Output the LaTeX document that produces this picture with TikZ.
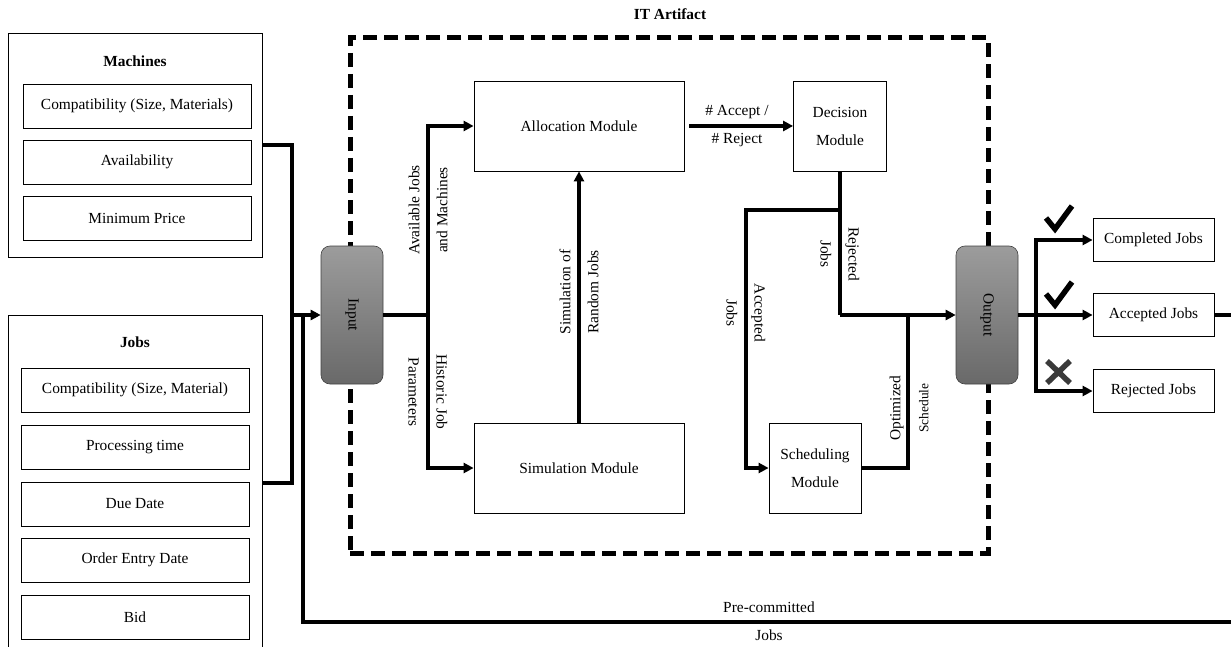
\documentclass[tikz,border=0pt]{standalone}
\usepackage{fontspec}
\setmainfont{Liberation Serif}
\usetikzlibrary{arrows.meta}
\definecolor{porttop}{HTML}{9C9C9C}
\definecolor{portbot}{HTML}{696969}
\definecolor{crossgray}{HTML}{3A3A3A}
\def\lw{3.2pt}
\def\boxw{228pt}
\def\boxh{44pt}

\begin{document}
\begin{tikzpicture}[x=1pt,y=-1pt,
  font=\fontsize{15.4}{28}\selectfont,
  item/.style={draw,line width=0.8pt,minimum width=\boxw,minimum height=\boxh,inner sep=0pt},
  group/.style={draw,line width=0.8pt,inner sep=0pt},
  module/.style={draw,line width=0.8pt,align=center,inner sep=0pt},
  port/.style={draw=black!75,line width=0.6pt,rounded corners=9pt,top color=porttop,bottom color=portbot,minimum width=62pt,minimum height=138pt,inner sep=0pt},
  wire/.style={line width=\lw},
  flow/.style={line width=\lw,-{Triangle[length=10pt,width=10pt]}},
  lbl/.style={align=center,inner sep=0pt},
  tick/.style={line width=5.5pt}]

\useasboundingbox (0,0) rectangle (1231,647);

%Machines group (left, top)
\node[group,minimum width=254pt,minimum height=224pt] (machines) at (135,145) {};
\node (machtitle) at (135,61) {\textbf{Machines}};
\foreach \t/\y [count=\i] in {{Compatibility (Size, Materials)}/106,Availability/162,{Minimum Price}/218}{
    \node[item] (mach\i) at (137,\y) {\t};
}

%Jobs group (left, bottom) - runs off the page
\node[group,minimum width=254pt,minimum height=336pt] (jobs) at (135,483) {};
\node (jobtitle) at (135,342) {\textbf{Jobs}};
\foreach \t/\y [count=\i] in {{Compatibility (Size, Material)}/390,{Processing time}/447,{Due Date}/504,{Order Entry Date}/560,Bid/617}{
    \node[item] (job\i) at (135,\y) {\t};
}

%The IT artifact frame (dashed)
\node[draw,line width=5pt,dash pattern=on 14pt off 7pt,minimum width=638pt,minimum height=515pt,inner sep=0pt] (artifact) at (669,295.5) {};
\node (arttitle) at (670,14) {\textbf{IT Artifact}};

%Ports
\node[port] (input) at (352,315) {\rotatebox{-90}{Input}};
\node[port] (output) at (987,315) {\rotatebox{-90}{Output}};

%Modules
\node[module,minimum width=210pt,minimum height=90pt] (alloc) at (579,126) {Allocation Module};
\node[module,minimum width=210pt,minimum height=90pt] (sim) at (579,468) {Simulation Module};
\node[module,minimum width=93pt,minimum height=90pt] (decision) at (840,126) {Decision\\Module};
\node[module,minimum width=92pt,minimum height=90pt] (sched) at (815,468) {Scheduling\\Module};

%Result boxes (right)
\foreach \t/\n/\y in {{Completed Jobs}/completed/240,{Accepted Jobs}/accepted/315,{Rejected Jobs}/rejected/391}{
    \node[item,minimum width=121pt,minimum height=43pt] (\n) at (1153.5,\y) {\t};
}

%bends and joins
\coordinate (join) at (292,315);
\coordinate (pcstart) at (303,315);
\coordinate (pcend) at (1240,622);
\coordinate (split) at (428,315);
\coordinate (fork) at (840,210);
\coordinate (turn) at (746,210);
\coordinate (rejturn) at (840,315);
\coordinate (merge) at (908,315);
\coordinate (outsplit) at (1036,315);
\coordinate (loopend) at (1240,315);

\draw[wire] (machines.east) -| (join);
\draw[wire] (jobs.east) -| (join);
\draw[flow] (join) -- (input.west);
\draw[wire] (pcstart) |- (pcend);
\draw[wire] (input.east) -- (split);
\draw[flow] (split) |- (alloc.west);
\draw[flow] (split) |- (sim.west);
\draw[flow] (sim.north) -- (alloc.south);
\draw[flow,shorten <=5pt] (alloc.east) -- (decision.west);
\draw[wire] (decision.south) -- (rejturn);
\draw[flow] (rejturn) -- (output.west);
\draw[flow] (fork) -- (turn) |- (sched.west);
\draw[wire] (sched.east) -| (merge);
\draw[wire] (output.east) -- (outsplit);
\draw[flow] (outsplit) |- (completed.west);
\draw[flow] (outsplit) -- (accepted.west);
\draw[flow] (outsplit) |- (rejected.west);
\draw[wire] (accepted.east) -- (loopend);

%labels on the connectors
\node[lbl,rotate=90] (availlbl) at (428,210) {Available Jobs\\and Machines};
\node[lbl,rotate=-90] (histlbl) at (428,392) {Historic Job\\Parameters};
\node[lbl,rotate=90] (simlbl) at (579,292) {Simulation of\\Random Jobs};
\node[lbl] (countlbl) at (737,126) {\# Accept /\\\# Reject};
\node[lbl,rotate=-90] (rejlbl) at (840,254) {Rejected\\Jobs};
\node[lbl,rotate=-90] (acclbl) at (746,313) {Accepted\\Jobs};
\node[lbl,rotate=90] (optlbl) at (909,408) {Optimized\\{\fontsize{13.4}{28}\selectfont Schedule}};
\node[lbl] (prelbl) at (769,621) {Pre-committed\\Jobs};

%check marks and cross
\draw[tick] (1046,218) -- (1055,229) -- (1072,206);
\draw[tick] (1046,294) -- (1055,305) -- (1072,282);
\draw[tick,crossgray] (1047,361) -- (1070,383) (1047,383) -- (1070,361);

\end{tikzpicture}
\end{document}
